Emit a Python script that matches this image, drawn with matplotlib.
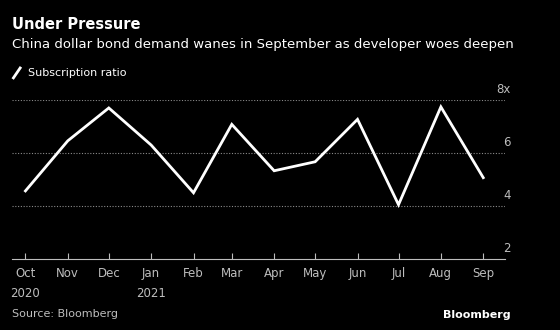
import datetime as dt
import matplotlib
matplotlib.use("Agg")
import matplotlib.pyplot as plt
from matplotlib.lines import Line2D

months = ["Oct", "Nov", "Dec", "Jan", "Feb", "Mar", "Apr", "May", "Jun", "Jul", "Aug", "Sep"]
years = ["2020", "", "", "2021", "", "", "", "", "", "", "", ""]
dates = [dt.date(2020, 10, 1), dt.date(2020, 11, 1), dt.date(2020, 12, 1),
         dt.date(2021, 1, 1), dt.date(2021, 2, 1), dt.date(2021, 3, 1),
         dt.date(2021, 4, 1), dt.date(2021, 5, 1), dt.date(2021, 6, 1),
         dt.date(2021, 7, 1), dt.date(2021, 8, 1), dt.date(2021, 9, 1)]
ratio = [4.57, 6.46, 7.70, 6.30, 4.50, 7.08, 5.33, 5.67, 7.27, 4.05, 7.74, 5.07]
yticks = [2, 4, 6, 8]
ytick_labels = ["2", "4", "6", "8x"]

plt.rcParams['font.family'] = ['DejaVu Sans']
bg = "black"
grey = "#bdbdbd"

fig = plt.figure(figsize=(5.6, 3.3), dpi=100, facecolor=bg)
ax = fig.add_axes([0.021, 0.215, 0.881, 0.482], facecolor=bg)

ax.plot(dates, ratio, color="white", lw=2.0, solid_joinstyle="miter")

ax.set_ylim(2, 8)
ax.set_xlim(dt.date(2020, 9, 21), dt.date(2021, 9, 17))
ax.set_yticks(yticks)
ax.set_yticklabels([])
for y, lab in zip(yticks, ytick_labels):
    ax.text(1.011, y + 0.15, lab, transform=ax.get_yaxis_transform(), ha="right",
            va="bottom", color=grey, fontsize=8.5, family="DejaVu Sans Condensed")
    if y > 2:
        ax.axhline(y, color="#8a8a8a", lw=0.8, ls=(0, (1, 1.5)), zorder=0)
ax.tick_params(axis="y", length=0)

ax.set_xticks(dates)
ax.set_xticklabels([m + ("\n" + yr if yr else "") for m, yr in zip(months, years)],
                   color=grey, fontsize=8.5, family="DejaVu Sans Condensed",
                   linespacing=1.7)
for lab in ax.get_xticklabels():
    lab.set_verticalalignment("top")
ax.tick_params(axis="x", direction="in", length=4, color="#bdbdbd", pad=6)

for s in ["top", "left", "right"]:
    ax.spines[s].set_visible(False)
ax.spines["bottom"].set_color("#bdbdbd")
ax.spines["bottom"].set_linewidth(0.8)

fig.text(0.021, 0.927, "Under Pressure", color="white", fontsize=10.5, va="center",
         fontweight="bold", family="DejaVu Sans")
fig.text(0.021, 0.864, "China dollar bond demand wanes in September as developer woes deepen",
         color="white", fontsize=9.5, va="center", family="DejaVu Sans Condensed")
fig.add_artist(Line2D([0.024, 0.036], [0.764, 0.794], color="white", lw=2,
                      transform=fig.transFigure))
fig.text(0.05, 0.779, "Subscription ratio", color="white", fontsize=8, va="center",
         family="DejaVu Sans Condensed")
fig.text(0.021, 0.04, "Source: Bloomberg", color=grey, fontsize=8,
         family="DejaVu Sans Condensed")
fig.text(0.912, 0.035, "Bloomberg", color="white", fontsize=8, fontweight="bold",
         ha="right", family="DejaVu Sans")

fig.savefig("out.png", dpi=100, facecolor=bg)
